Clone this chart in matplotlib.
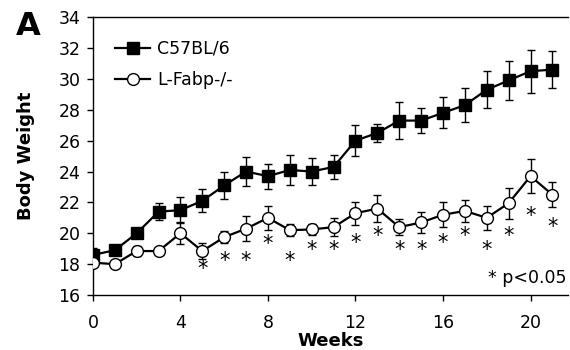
import matplotlib
matplotlib.use("Agg")
import matplotlib.pyplot as plt
from matplotlib.lines import Line2D

weeks = list(range(22))

# C57BL/6 (filled squares)
wt_mean = [18.6, 18.9, 20.0, 21.4, 21.5, 22.1, 23.1, 24.0, 23.7, 24.1, 24.0,
           24.3, 26.0, 26.5, 27.3, 27.3, 27.8, 28.3, 29.3, 29.9, 30.5, 30.6]
wt_err = [0.45, 0.3, 0.3, 0.55, 0.85, 0.75, 0.85, 0.95, 0.8, 1.0, 0.9,
          0.8, 1.0, 0.6, 1.2, 0.8, 1.0, 1.1, 1.2, 1.25, 1.4, 1.2]

# L-Fabp-/- (open circles)
ko_mean = [18.1, 18.0, 18.85, 18.85, 20.0, 18.85, 19.75, 20.3, 21.0, 20.2, 20.25,
           20.4, 21.3, 21.6, 20.4, 20.7, 21.2, 21.45, 21.0, 21.95, 23.7, 22.5]
ko_err = [0.3, 0.2, 0.35, 0.25, 0.7, 0.5, 0.4, 0.8, 0.8, 0.4, 0.35,
          0.6, 0.75, 0.9, 0.5, 0.65, 0.8, 0.7, 0.8, 1.0, 1.1, 0.8]

# significance stars (week, y)
star_weeks = [5, 6, 7, 8, 9, 10, 11, 12, 13, 14, 15, 16, 17, 18, 19, 20, 21]
star_y = [17.7, 18.2, 18.2, 19.3, 18.2, 18.9, 18.9, 19.4, 19.8, 18.9, 18.9,
          19.4, 19.8, 18.9, 19.8, 21.1, 20.4]

plt.rcParams["font.family"] = "DejaVu Sans"
plt.rcParams["font.size"] = 12.5

fig = plt.figure(figsize=(5.7, 3.5), dpi=100)
ax = fig.add_axes([0.163, 0.157, 0.833, 0.794])

ax.errorbar(weeks, wt_mean, yerr=wt_err, color="black", lw=1.6,
            marker="s", ms=8.5, mfc="black", mec="black",
            elinewidth=1.0, capsize=3, capthick=1.0, zorder=3)
ax.errorbar(weeks, ko_mean, yerr=ko_err, color="black", lw=1.6,
            marker="o", ms=8.5, mfc="white", mec="black", mew=1.0,
            elinewidth=1.0, capsize=3, capthick=1.0, zorder=4)

for w, y in zip(star_weeks, star_y):
    ax.text(w, y, "*", ha="center", va="center", fontsize=15)

ax.text(0.998, 0.03, "* p<0.05", transform=ax.transAxes, ha="right",
        va="bottom", fontsize=12.5)

ax.set_xlim(0, 21.7)
ax.set_ylim(16, 34)
ax.set_xticks([0, 4, 8, 12, 16, 20])
ax.set_yticks(range(16, 35, 2))
ax.tick_params(direction="out", length=4, width=1, labelsize=12.5)
ax.tick_params(axis="x", pad=10)
ax.tick_params(axis="y", pad=5)
ax.spines["right"].set_visible(False)
for s in ["left", "bottom", "top"]:
    ax.spines[s].set_linewidth(1.0)

ax.set_xlabel("Weeks", fontweight="bold", fontsize=13, labelpad=0)
ax.set_ylabel("Body Weight", fontweight="bold", fontsize=13, labelpad=17)

handles = [
    Line2D([], [], color="black", lw=1.6, marker="s", ms=8.5, mfc="black"),
    Line2D([], [], color="black", lw=1.6, marker="o", ms=8.5, mfc="white", mew=1.0),
]
ax.legend(handles, ["C57BL/6", "L-Fabp-/-"], loc="upper left", frameon=False,
          handlelength=2.0, borderaxespad=0.9, labelspacing=0.75,
          handletextpad=0.4, fontsize=12.5)

fig.text(0.028, 0.9, "A", fontsize=23, fontweight="bold")

fig.savefig("out.png", dpi=100)
